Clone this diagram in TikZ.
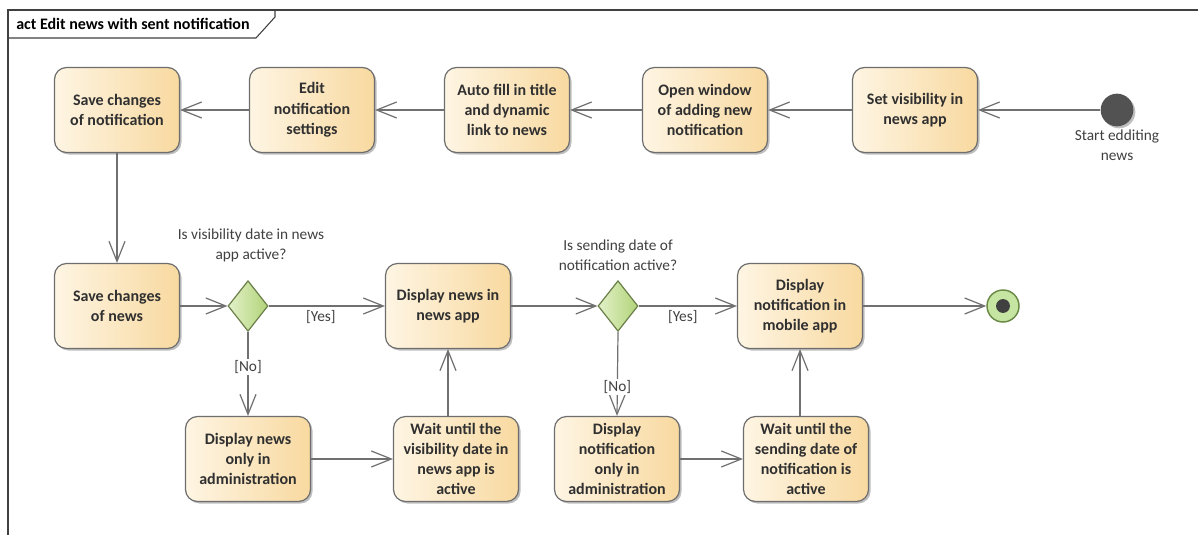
\documentclass[tikz,border=0pt]{standalone}
\usepackage{fontspec}
\setmainfont{Carlito}
\usetikzlibrary{arrows.meta,shapes.geometric,shadows}
\definecolor{boxborder}{HTML}{6E6E6E}
\definecolor{boxleft}{HTML}{FEF5E3}
\definecolor{boxright}{HTML}{F8D9A0}
\definecolor{txt}{HTML}{303030}
\definecolor{lbl}{HTML}{404040}
\definecolor{edge}{HTML}{707070}
\definecolor{dleft}{HTML}{E2F0C8}
\definecolor{dright}{HTML}{B2D47A}
\definecolor{dborder}{HTML}{6A8048}
\definecolor{finfill}{HTML}{C6E4A2}
\definecolor{finborder}{HTML}{6B8A45}
\tikzset{
  actbox/.style={rectangle, rounded corners=9pt, draw=boxborder, line width=0.9pt,
    left color=boxleft, right color=boxright,
    drop shadow={shadow xshift=1.5pt, shadow yshift=-1.5pt, opacity=0.25, fill=black},
    minimum width=93.75pt, minimum height=63.75pt, align=center,
    inner sep=1pt, text=txt, font=\fontsize{12}{15.2}\selectfont\bfseries},
  decision/.style={diamond, draw=dborder, line width=0.9pt, left color=dleft, right color=dright,
    minimum width=30pt, minimum height=38pt, inner sep=0pt},
  lbltext/.style={text=lbl, font=\fontsize{11.5}{15}\selectfont, align=center, inner sep=1pt},
  flow/.style={draw=edge, line width=0.9pt, -{Straight Barb[length=15pt,width=12pt,line width=0.9pt]}},
}
\begin{document}
\begin{tikzpicture}[x=0.75pt,y=-0.75pt]
\useasboundingbox (0,0) rectangle (1198,535);
\fill[white] (0,0) rectangle (1198,535);
% frame
\draw[draw=lbl, line width=0.8pt] (8,535) -- (8,10) -- (1198,10);
\draw[draw=lbl, line width=0.8pt] (8,38) -- (256,38) -- (275,17) -- (275,10);
\node[anchor=west, text=black, font=\fontsize{12}{14}\selectfont\bfseries, inner sep=0pt] (title) at (16,24) {act Edit news with sent notification};
% top row
\node[actbox] (savenotif) at (117,110) {Save changes\\of notification};
\node[actbox] (editnotif) at (312,110) {Edit\\notification\\settings};
\node[actbox] (autofill) at (507,110) {Auto fill in title\\and dynamic\\link to news};
\node[actbox] (openwin) at (705,110) {Open window\\of adding new\\notification};
\node[actbox] (setvis) at (915,110) {Set visibility in\\news app};
\node[circle, fill=black!68, minimum size=24.5pt, inner sep=0pt,
  drop shadow={shadow xshift=1.5pt, shadow yshift=-1.5pt, opacity=0.25, fill=black}] (start) at (1117,110) {};
\node[lbltext] (startlbl) at (1117,145) {Start edditing\\news};
% middle row
\node[actbox] (savenews) at (117,306) {Save changes\\of news};
\node[decision] (d1) at (248,306) {};
\node[actbox] (dispnews) at (448,306) {Display news in\\news app};
\node[decision] (d2) at (618,306) {};
\node[actbox] (dispnotif) at (800,306) {Display\\notification in\\mobile app};
\node[circle, draw=finborder, line width=1.1pt, fill=finfill, minimum size=24pt, inner sep=0pt] (final) at (1003,306) {};
\fill[black!75] (final.center) circle (5.2pt);
\node[lbltext] (q1) at (251,245) {Is visibility date in news\\app active?};
\node[lbltext] (q2) at (618,255) {Is sending date of\\notification active?};
% bottom row
\node[actbox] (dispadm) at (248,459) {Display news\\only in\\administration};
\node[actbox] (wait1) at (456,459) {Wait until the\\visibility date in\\news app is\\active};
\node[actbox] (notifadm) at (617,459) {Display\\notification\\only in\\administration};
\node[actbox] (wait2) at (806,459) {Wait until the\\sending date of\\notification is\\active};
% edges
\draw[flow] (start.west) -- (setvis.east);
\draw[flow] (setvis.west) -- (openwin.east);
\draw[flow] (openwin.west) -- (autofill.east);
\draw[flow] (autofill.west) -- (editnotif.east);
\draw[flow] (editnotif.west) -- (savenotif.east);
\draw[flow] (savenotif.south) -- (savenews.north);
\draw[flow] (savenews.east) -- (d1.west);
\draw[flow] (d1.east) -- node[lbltext, pos=0.45, below=2pt] (yes1) {[Yes]} (dispnews.west);
\draw[flow] (d1.south) -- node[lbltext, fill=white, pos=0.42] (no1) {[No]} (dispadm.north);
\draw[flow] (dispadm.east) -- (wait1.west);
\draw[flow] (dispnews.south |- wait1.north) -- (dispnews.south);
\draw[flow] (dispnews.east) -- (d2.west);
\draw[flow] (d2.east) -- node[lbltext, pos=0.45, below=2pt] (yes2) {[Yes]} (dispnotif.west);
\draw[flow] (d2.south) -- node[lbltext, fill=white, pos=0.66] (no2) {[No]} (notifadm.north);
\draw[flow] (notifadm.east) -- (wait2.west);
\draw[flow] (dispnotif.south |- wait2.north) -- (dispnotif.south);
\draw[flow] (dispnotif.east) -- (final.west);
\end{tikzpicture}
\end{document}
